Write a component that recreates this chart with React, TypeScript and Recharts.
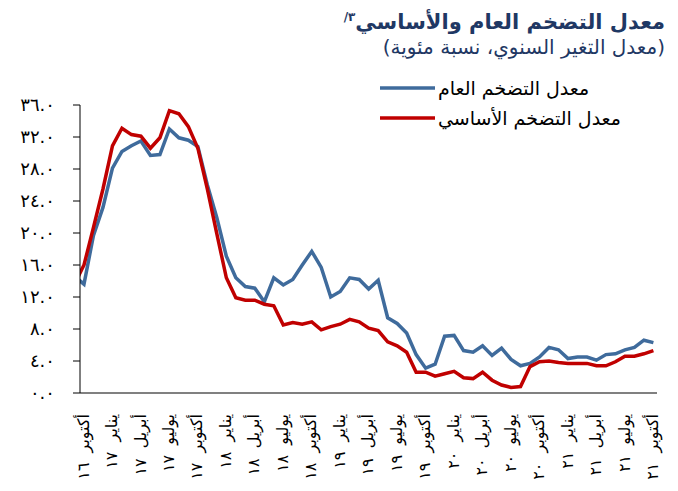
import { LineChart, Line, XAxis, YAxis, Legend } from 'recharts';

// monthly, Sep 2016 .. Oct 2021 (first point sits left of the axis and is clipped)
const headline = [
    14.6, 13.6, 19.7, 23.2,
    28.1, 30.2, 30.9, 31.5, 29.7, 29.8, 33.0, 31.9, 31.6, 30.8, 26.0, 21.9,
    17.1, 14.4, 13.3, 13.1, 11.4, 14.4, 13.5, 14.2, 16.0, 17.7, 15.7, 12.0,
    12.7, 14.4, 14.2, 13.0, 14.1, 9.4, 8.7, 7.5, 4.8, 3.1, 3.6, 7.1,
    7.2, 5.3, 5.1, 5.9, 4.7, 5.6, 4.2, 3.4, 3.7, 4.5, 5.7, 5.4,
    4.3, 4.5, 4.5, 4.1, 4.8, 4.9, 5.4, 5.7, 6.6, 6.3,
];

const core = [
    13.6, 16.0, 20.7, 25.5,
    30.9, 33.1, 32.3, 32.1, 30.6, 31.9, 35.3, 34.9, 33.3, 30.6, 25.5, 19.9,
    14.4, 11.9, 11.6, 11.6, 11.1, 10.9, 8.5, 8.8, 8.6, 8.9, 7.9, 8.3,
    8.6, 9.2, 8.9, 8.1, 7.8, 6.4, 5.9, 5.1, 2.6, 2.6, 2.1, 2.4,
    2.7, 1.9, 1.8, 2.6, 1.6, 1.0, 0.7, 0.8, 3.3, 3.9, 4.0, 3.8,
    3.7, 3.7, 3.7, 3.4, 3.4, 3.9, 4.6, 4.6, 4.9, 5.3,
];

const xTicks = [0, 3, 6, 9, 12, 15, 18, 21, 24, 27, 30, 33, 36, 39, 42, 45, 48, 51, 54, 57, 60];
const xLabels = [
    'أكتوبر ١٦', 'يناير ١٧', 'أبريل ١٧', 'يوليو ١٧', 'أكتوبر ١٧', 'يناير ١٨', 'أبريل ١٨',
    'يوليو ١٨', 'أكتوبر ١٨', 'يناير ١٩', 'أبريل ١٩', 'يوليو ١٩', 'أكتوبر ١٩', 'يناير ٢٠',
    'أبريل ٢٠', 'يوليو ٢٠', 'أكتوبر ٢٠', 'يناير ٢١', 'أبريل ٢١', 'يوليو ٢١', 'أكتوبر ٢١',
];

const yTicks = [0, 4, 8, 12, 16, 20, 24, 28, 32, 36];
const yLabels = ['٠.٠', '٤.٠', '٨.٠', '١٢.٠', '١٦.٠', '٢٠.٠', '٢٤.٠', '٢٨.٠', '٣٢.٠', '٣٦.٠'];

const titleText = 'معدل التضخم العام والأساسي';
const titleNote = '٣/';
const subtitleText = '(معدل التغير السنوي، نسبة مئوية)';
const headlineName = 'معدل التضخم العام';
const coreName = 'معدل التضخم الأساسي';

const data = headline.map((v, i) => ({ m: i - 1, headline: v, core: core[i] }));

const FONT = "'DejaVu Sans', sans-serif";
const BLUE = '#3F6B9C';
const RED = '#C00000';
const NAVY = '#1F3864';

function XTick(props: any) {
    const { x, y, payload } = props;
    const label = xLabels[xTicks.indexOf(payload.value)];
    return (
        <text
            transform={`translate(${x - 1},${y}) rotate(-90)`}
            textAnchor="end"
            dy="0.35em"
            fontSize={16}
            wordSpacing={5}
            fontFamily={FONT}
            fill="#000"
        >
            {label}
        </text>
    );
}

function LegendBox() {
    return (
        <svg width={260} height={60}>
            <line x1={10} y1={17} x2={65} y2={17} stroke={BLUE} strokeWidth={3.5} />
            <text x={68} y={17} dy="0.35em" fontSize={19} fontFamily={FONT} fill="#000">{headlineName}</text>
            <line x1={10} y1={47} x2={65} y2={47} stroke={RED} strokeWidth={3.5} />
            <text x={68} y={47} dy="0.35em" fontSize={19} fontFamily={FONT} fill="#000">{coreName}</text>
        </svg>
    );
}

export default function App() {
    return (
        <div style={{ position: 'absolute', left: 0, top: 0, width: 678, height: 491, background: '#fff' }}>
            <div
                dir="rtl"
                style={{
                    position: 'absolute', right: 13, top: 4, fontFamily: FONT, fontSize: 21,
                    fontWeight: 'bold', color: NAVY, whiteSpace: 'nowrap', lineHeight: '26px',
                }}
            >
                {titleText}
                <sup style={{ fontSize: 12 }}>{titleNote}</sup>
            </div>
            <div
                dir="rtl"
                style={{
                    position: 'absolute', right: 13, top: 34, fontFamily: FONT, fontSize: 20,
                    color: NAVY, whiteSpace: 'nowrap', lineHeight: '26px',
                }}
            >
                {subtitleText}
            </div>
            <LineChart
                width={678}
                height={491}
                data={data}
                margin={{ top: 105, right: 21, bottom: 0, left: 0 }}
            >
                <XAxis
                    dataKey="m"
                    type="number"
                    domain={[-0.42, 60.38]}
                    allowDataOverflow
                    ticks={xTicks}
                    interval={0}
                    tick={<XTick />}
                    tickLine={false}
                    tickSize={0}
                    tickMargin={21}
                    height={98}
                    axisLine={{ stroke: '#808080', strokeWidth: 2 }}
                />
                <YAxis
                    domain={[0, 36]}
                    ticks={yTicks}
                    interval={0}
                    width={80}
                    tickFormatter={(v: number) => yLabels[yTicks.indexOf(v)]}
                    tick={{ fill: '#000', fontSize: 18, fontFamily: FONT, letterSpacing: 1 }}
                    tickSize={7}
                    tickMargin={18}
                    axisLine={{ stroke: '#000' }}
                    tickLine={{ stroke: '#000' }}
                />
                <Legend
                    layout="horizontal"
                    verticalAlign="middle"
                    align="center"
                    content={() => <LegendBox />}
                    wrapperStyle={{ left: 370, top: 71, width: 260, height: 60 }}
                />
                <Line
                    type="linear"
                    dataKey="headline"
                    name={headlineName}
                    stroke={BLUE}
                    strokeWidth={3.5}
                    dot={false}
                    isAnimationActive={false}
                />
                <Line
                    type="linear"
                    dataKey="core"
                    name={coreName}
                    stroke={RED}
                    strokeWidth={3.5}
                    dot={false}
                    isAnimationActive={false}
                />
            </LineChart>
        </div>
    );
}
